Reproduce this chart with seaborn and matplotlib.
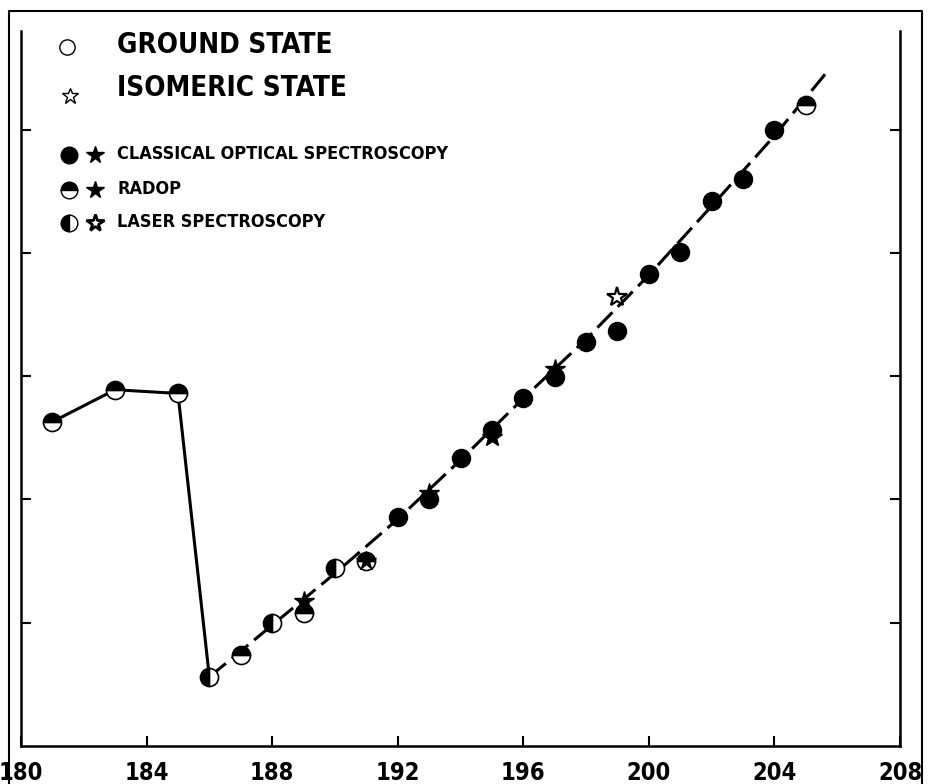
import matplotlib
matplotlib.use('Agg')
import matplotlib.pyplot as plt
import seaborn as sns
from matplotlib.lines import Line2D

sns.set_style('white')
FONT = ['DejaVu Sans']
plt.rcParams['font.family'] = FONT
plt.rcParams['text.color'] = 'black'
plt.rcParams['xtick.color'] = 'black'
plt.rcParams['ytick.color'] = 'black'

# mass number A and (unlabelled) isotope shift values
radop_A = [181, 183, 185, 187, 189, 191, 205]
radop_y = [2.63, 2.89, 2.86, 0.74, 1.08, 1.50, 5.20]
laser_A = [186, 188, 190]
laser_y = [0.56, 1.00, 1.44]
classical_A = [192, 193, 194, 195, 196, 197, 198, 199, 200, 201, 202, 203, 204]
classical_y = [1.86, 2.00, 2.34, 2.56, 2.82, 2.99, 3.28, 3.37, 3.83, 4.01, 4.42, 4.60, 5.00]
iso_filled_A = [189, 191, 193, 195, 197]
iso_filled_y = [1.18, 1.50, 2.05, 2.51, 3.06]
iso_open_A = [199]
iso_open_y = [3.64]

# connecting lines
solid_A = [181, 183, 185, 186]
solid_y = [2.63, 2.89, 2.86, 0.56]
trend_A = [186, 188, 190, 192, 194, 196, 198, 200, 202, 204, 205.65]
trend_y = [0.56, 0.98, 1.40, 1.84, 2.32, 2.82, 3.30, 3.82, 4.38, 4.95, 5.46]

xticks = [180, 184, 188, 192, 196, 200, 204, 208]

W, H = 932, 784
fig = plt.figure(figsize=(W / 100, H / 100), dpi=100)
ax = fig.add_axes([21 / W, 38 / H, 879 / W, 715 / H])

sns.lineplot(x=solid_A, y=solid_y, ax=ax, color='black', lw=2.2, sort=False, zorder=1)
sns.lineplot(x=trend_A, y=trend_y, ax=ax, color='black', lw=2.2, sort=False, zorder=1)
ax.lines[-1].set_dashes([7, 2.5])

ms = 13
# stars behind the circles
ax.plot(iso_filled_A, iso_filled_y, ls='none', marker='*', ms=15, color='black', zorder=2)
ax.plot(iso_open_A, iso_open_y, ls='none', marker='*', ms=15, mfc='white', mec='black',
        mew=1.6, zorder=2)
sns.scatterplot(x=classical_A, y=classical_y, ax=ax, color='black', s=ms ** 2,
                edgecolor='black', linewidth=1, zorder=3)
ax.plot(radop_A, radop_y, ls='none', marker='o', ms=ms, fillstyle='top', mfc='black',
        mfcalt='white', mec='black', mew=1.2, zorder=3)
ax.plot(laser_A, laser_y, ls='none', marker='o', ms=ms, fillstyle='left', mfc='black',
        mfcalt='white', mec='black', mew=1.2, zorder=3)
# star drawn over the A=191 point
ax.plot([191], [1.50], ls='none', marker='*', ms=12, color='black', zorder=4)

ax.set_xlim(180, 208)
ax.set_ylim(0, 5.8)
ax.set_xticks(xticks)
ax.set_xticklabels([str(t) for t in xticks], fontweight='bold', fontstretch='condensed',
                   fontsize=17)
ax.set_yticks([1, 2, 3, 4, 5])
ax.set_yticklabels([])
ax.tick_params(axis='x', direction='in', length=7, width=1.5, pad=11, bottom=True)
ax.tick_params(axis='y', direction='in', length=7, width=1.5, left=True, right=True)
ax.set_xlabel('')
ax.set_ylabel('')
for s in ['left', 'right', 'bottom']:
    ax.spines[s].set_linewidth(1.8)
    ax.spines[s].set_color('black')
ax.spines['top'].set_visible(False)

# outer frame, open at the bottom
def fx(px):
    return px / W

def fy(py):
    return 1 - py / H

fig.add_artist(Line2D([fx(9), fx(9), fx(922), fx(922)], [0, fy(11), fy(11), 0],
                      transform=fig.transFigure, color='black', lw=1.5))

# legend block
tf = fig.transFigure
fig.add_artist(Line2D([fx(67)], [fy(47)], marker='o', ms=11, mfc='white', mec='black',
                      mew=1.0, transform=tf))
fig.add_artist(Line2D([fx(70)], [fy(96)], marker='*', ms=12, mfc='white', mec='black',
                      mew=1.0, transform=tf))
big = dict(fontsize=20, fontweight='bold', fontstretch='condensed', va='center')
fig.text(fx(117), fy(45), 'GROUND STATE', **big)
fig.text(fx(117), fy(88), 'ISOMERIC STATE', **big)

small = dict(fontsize=13, fontweight='bold', fontstretch='condensed', va='center')
rows = [(155, 'full', 'CLASSICAL OPTICAL SPECTROSCOPY'),
        (190, 'top', 'RADOP'),
        (223, 'left', 'LASER SPECTROSCOPY')]
for py, fs, txt in rows:
    fig.add_artist(Line2D([fx(69)], [fy(py)], marker='o', ms=12, fillstyle=fs, mfc='black',
                          mfcalt='white', mec='black', mew=1.0, transform=tf))
    if fs == 'left':
        fig.add_artist(Line2D([fx(95)], [fy(py)], marker='*', ms=13, mfc='white',
                              mec='black', mew=2.0, transform=tf))
    else:
        fig.add_artist(Line2D([fx(95)], [fy(py)], marker='*', ms=13, color='black',
                              transform=tf))
    fig.text(fx(117), fy(py - 1), txt, **small)

fig.savefig('out.png', dpi=100, facecolor='white')
